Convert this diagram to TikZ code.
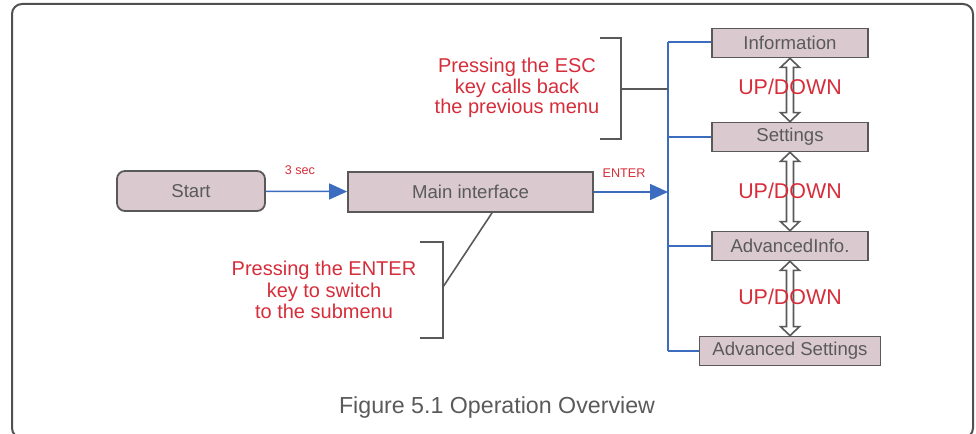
\documentclass[tikz,border=0pt]{standalone}
\usepackage{fontspec}
\setmainfont{Liberation Sans}
\usetikzlibrary{arrows.meta,calc}
\definecolor{boxfill}{HTML}{DACACF}
\definecolor{boxline}{HTML}{595959}
\definecolor{txtgray}{HTML}{5A5A5A}
\definecolor{keyred}{HTML}{D62D3A}
\definecolor{busblue}{HTML}{3B6CC0}
\tikzset{
  menu/.style={draw=boxline,fill=boxfill,line width=0.9pt,text=txtgray,
    font=\fontsize{9.3}{11}\selectfont,inner sep=0pt,
    minimum height=14.5pt,minimum width=78pt},
  keytext/.style={text=keyred,align=center,font=\fontsize{10}{10.3}\selectfont},
  small/.style={text=keyred,font=\fontsize{6.3}{7}\selectfont},
  updownlabel/.style={text=keyred,font=\fontsize{10.7}{12}\selectfont},
  bus/.style={draw=busblue,line width=0.75pt},
  go/.style={bus,-{Triangle[length=9pt,width=8pt]}},
  brace/.style={draw=boxline,line width=0.8pt},
  updownarrow/.style={draw=boxline,fill=white,line width=0.8pt,line join=miter}
}
\newcommand{\updown}[2]{%
  \draw[updownarrow] (#1.south) -- ++(9.5,-9) -- ++(-6,0)
    -- ($(#2.north)+(3.5,9)$) -- ++(6,0) -- (#2.north) -- ++(-9.5,9)
    -- ++(6,0) -- ($(#1.south)+(-3.5,-9)$) -- ++(-6,0) -- cycle;}
\begin{document}
\begin{tikzpicture}[x=0.5pt,y=0.5pt]
  \useasboundingbox (0,0) rectangle (976,434);
  \begin{scope}
    \clip (0,0) rectangle (976,434);
    \draw[draw=boxline!90!black,line width=1pt,rounded corners=5pt]
      (12,-4) rectangle (973,430);
  \end{scope}
  \node[menu,rounded corners=4pt,minimum width=74pt,minimum height=20pt] (start) at (191,243) {Start};
  \node[menu,minimum width=122.5pt,minimum height=20pt] (main) at (470.5,242) {Main interface};
  \node[menu] (info) at (790,391) {Information};
  \node[menu] (set) at (790,297) {Settings};
  \node[menu] (advinfo) at (790,188) {AdvancedInfo.};
  \node[menu,minimum width=90.5pt] (advset) at (790,83) {Advanced Settings};
  \coordinate (bustop) at (668,392);
  \coordinate (busbot) at (668,83);
  \coordinate (busin) at (668,242);
  \draw[go] (start) -- (main);
  \draw[go] (main) -- (busin);
  \draw[bus] (bustop) -- (busbot);
  \draw[bus] (bustop) -- (bustop -| info.west);
  \draw[bus] (set.west -| busin) -- (set);
  \draw[bus] (advinfo.west -| busin) -- (advinfo);
  \draw[bus] (busbot) -- (advset);
  \node[small] (sec) at (300,264) {3 sec};
  \node[small] (enter) at (624,261) {ENTER};
  \updown{info}{set}
  \updown{set}{advinfo}
  \updown{advinfo}{advset}
  \node[updownlabel] (ud1) at (790,347) {UP/DOWN};
  \node[updownlabel] (ud2) at (790,243) {UP/DOWN};
  \node[updownlabel] (ud3) at (790,137) {UP/DOWN};
  \node[keytext] (esc) at (517,346) {Pressing the ESC\\key calls back\\the previous menu};
  \draw[brace] (600,396) -- (621,396) -- (621,295) -- (600,295);
  \coordinate (escmid) at (621,345);
  \draw[brace] (escmid) -- (escmid -| busin);
  \node[keytext,font=\fontsize{10}{10.6}\selectfont] (ent) at (324,144) {Pressing the ENTER\\key to switch\\to the submenu};
  \draw[brace] (420,192) -- (443,192) -- (443,96) -- (420,96);
  \coordinate (entmid) at (443,147);
  \draw[brace] (entmid) -- (main.south -| 492,0);
  \node[text=txtgray,font=\fontsize{11.6}{13}\selectfont] (caption) at (497,26) {Figure 5.1 Operation Overview};
\end{tikzpicture}
\end{document}
